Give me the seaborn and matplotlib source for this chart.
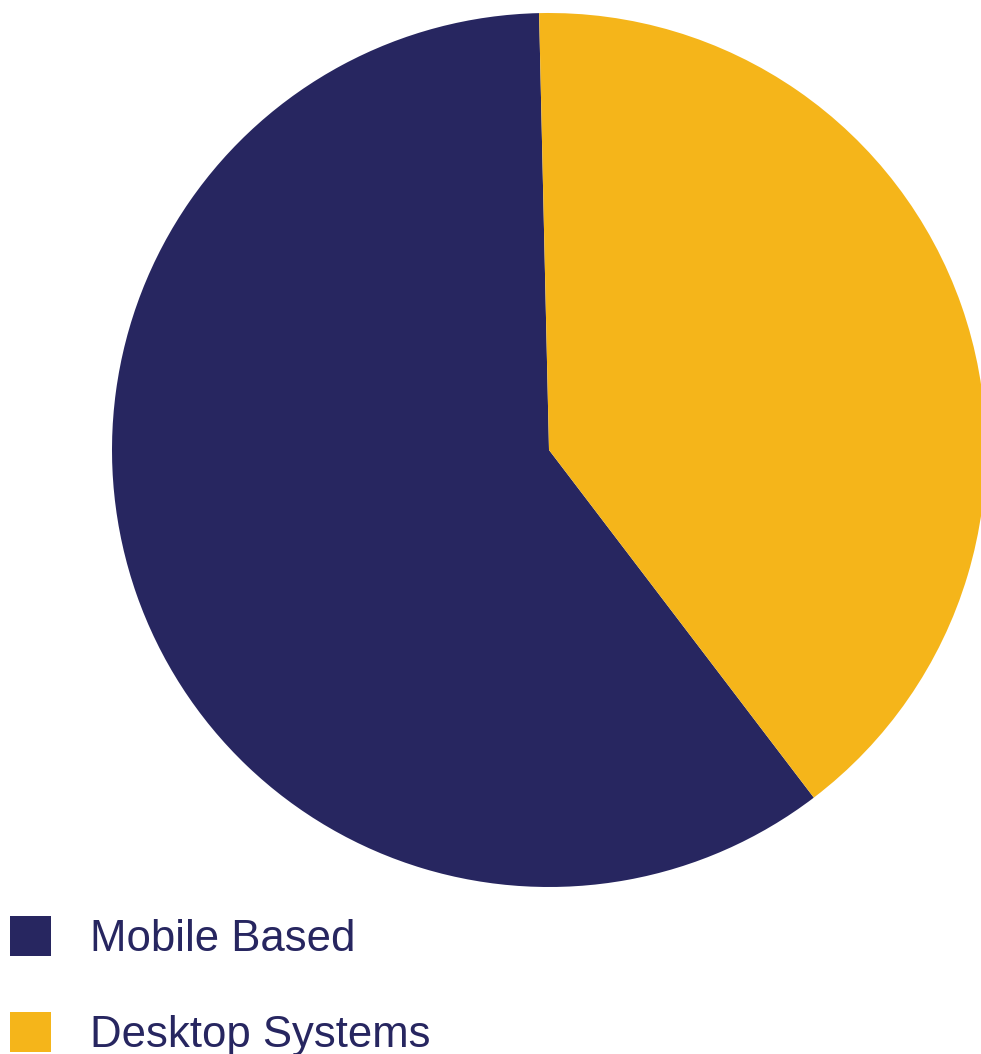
import matplotlib.pyplot as plt
import seaborn as sns

categories = ["Mobile Based", "Desktop Systems"]
shares = [60, 40]
colors = ["#272660", "#F5B51A"]
text_color = "#272660"

sns.set_style("white")
plt.rcParams['font.family'] = ['Liberation Sans', 'DejaVu Sans']

W, H = 981, 1054
fig = plt.figure(figsize=(W / 100, H / 100), dpi=100)
cx, cy, r = 549, 450, 437
ax = fig.add_axes([(cx - r) / W, (H - cy - r) / H, 2 * r / W, 2 * r / H])

wedges, _ = ax.pie(shares, colors=colors, startangle=91.3, counterclock=True,
                   wedgeprops=dict(linewidth=0, clip_on=False))
ax.set_xlim(-1, 1)
ax.set_ylim(-1, 1)
ax.set_aspect("equal")
ax.axis("off")

leg = fig.legend(wedges, categories, loc="upper left",
                 bbox_to_anchor=(10 / W, 1 - 916 / H), frameon=False,
                 fontsize=31.5, handlelength=0.94, handleheight=1.02,
                 handletextpad=0.88, labelspacing=1.2, borderpad=0,
                 borderaxespad=0)
for t in leg.get_texts():
    t.set_color(text_color)

fig.savefig("out.png", dpi=100, facecolor="white")
